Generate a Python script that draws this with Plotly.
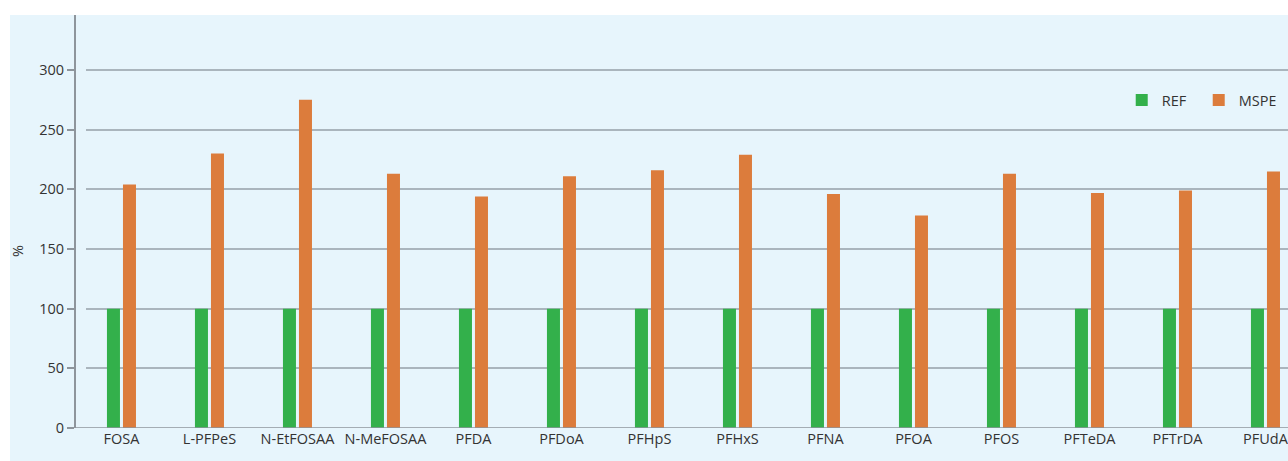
import plotly.graph_objects as go

categories = ["FOSA", "L-PFPeS", "N-EtFOSAA", "N-MeFOSAA", "PFDA", "PFDoA", "PFHpS",
              "PFHxS", "PFNA", "PFOA", "PFOS", "PFTeDA", "PFTrDA", "PFUdA"]
ref_values = [100] * 14
mspe_values = [204, 230, 275, 213, 194, 211, 216, 229, 196, 178, 213, 197, 199, 215]
y_ticks = [0, 50, 100, 150, 200, 250, 300]
y_title = "%"

W, H = 1288, 461
ml, mt = 10, 15
pw, ph = W - ml, H - mt
axis_x = (75 - ml) / pw
dom_x0 = (86 - ml) / pw
dom_y0 = (H - 428) / ph

fig = go.Figure()
fig.add_trace(go.Bar(name="REF", x=categories, y=ref_values, marker=dict(color="#33b04b", line=dict(width=0))))
fig.add_trace(go.Bar(name="MSPE", x=categories, y=mspe_values, marker=dict(color="#dc7c3c", line=dict(width=0))))

font = dict(family="Open Sans, Noto Sans, sans-serif", size=14.5, color="#333333")
fig.update_layout(
    width=W, height=H,
    margin=dict(l=ml, r=0, t=mt, b=0, autoexpand=False),
    paper_bgcolor="white",
    plot_bgcolor="rgba(0,0,0,0)",
    font=font,
    barmode="group",
    bargap=0.636,
    bargroupgap=0.1875,
    shapes=[
        dict(type="rect", xref="paper", yref="paper", x0=0, x1=1, y0=0, y1=1,
             fillcolor="#e7f5fc", line=dict(width=0), layer="below"),
        dict(type="line", xref="paper", yref="y", x0=axis_x, x1=1, y0=0, y1=0,
             line=dict(color="#8e959c", width=1.5), layer="above"),
    ],
    annotations=[
        dict(text=y_title, textangle=-90, xref="paper", yref="paper",
             x=(17 - ml) / pw, y=(H - 251) / ph, xanchor="center", yanchor="middle",
             showarrow=False, font=font),
    ],
    xaxis=dict(
        domain=[dom_x0, 1], range=[-0.403, 13.256], showgrid=False,
        showline=False, ticks="", tickfont=font, zeroline=False, automargin=False,
    ),
    yaxis=dict(
        domain=[dom_y0, 1], range=[0, 346.1], anchor="free", position=axis_x,
        tickvals=y_ticks, showgrid=True, gridcolor="#aab5bd", gridwidth=1.5,
        showline=True, linecolor="#8e959c", linewidth=2,
        ticks="outside", ticklen=7, tickwidth=1.5, tickcolor="#8e959c",
        zeroline=False, tickfont=font, automargin=False,
    ),
    legend=dict(orientation="h", x=0.999 - 11 / pw, xanchor="right", y=(H - 100) / ph, yanchor="middle",
                bgcolor="rgba(0,0,0,0)", font=font, traceorder="normal",
                entrywidth=32, entrywidthmode="pixels"),
)

fig.write_html(
    "out.html",
    config={"displayModeBar": False},
    post_script="document.body.style.margin='0';document.body.style.overflow='hidden';",
)
